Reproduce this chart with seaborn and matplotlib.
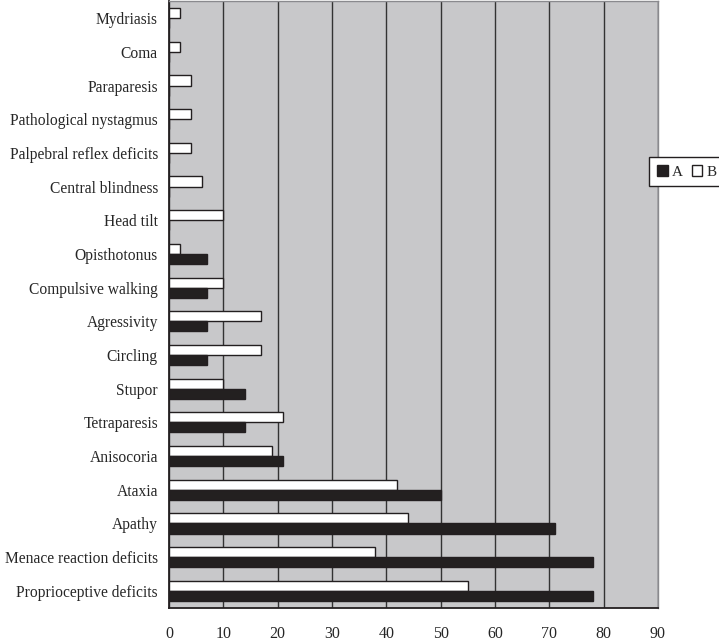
import numpy as np
import pandas as pd
import matplotlib
matplotlib.use("Agg")
import matplotlib.pyplot as plt
from matplotlib.patches import Patch
import seaborn as sns

# Signs, listed top to bottom as in the chart
signs = [
    "Mydriasis", "Coma", "Paraparesis", "Pathological nystagmus",
    "Palpebral reflex deficits", "Central blindness", "Head tilt",
    "Opisthotonus", "Compulsive walking", "Agressivity", "Circling",
    "Stupor", "Tetraparesis", "Anisocoria", "Ataxia", "Apathy",
    "Menace reaction deficits", "Proprioceptive deficits",
]
group_a = [0, 0, 0, 0, 0, 0, 0, 7, 7, 7, 7, 14, 14, 21, 50, 71, 78, 78]
group_b = [2, 2, 4, 4, 4, 6, 10, 2, 10, 17, 17, 10, 21, 19, 42, 44, 38, 55]

df = pd.DataFrame({
    "sign": signs * 2,
    "value": group_b + group_a,
    "group": ["B"] * len(signs) + ["A"] * len(signs),
})

sns.set_style("white")
plt.rcParams['font.family'] = ['Liberation Serif', 'DejaVu Serif']

fig = plt.figure(figsize=(7.19, 6.41), dpi=100)
ax = fig.add_axes([0.235, 0.052, 0.68, 0.946])
ax.set_facecolor("#c8c8ca")

sns.barplot(data=df, y="sign", x="value", hue="group", hue_order=["B", "A"],
            order=signs, palette={"A": "#231f20", "B": "white"},
            width=0.6, edgecolor="#231f20", linewidth=1.0, orient="h",
            ax=ax, legend=False, zorder=3)

ax.set_xlim(0, 90)
ax.set_xticks(np.arange(0, 91, 10))
ax.set_ylim(len(signs) - 0.5, -0.5)

# tick marks between categories, labels at centres
ax.set_yticks(np.arange(-0.5, len(signs), 1.0))
ax.set_yticklabels([])
ax.set_yticks(np.arange(len(signs)), minor=True)
ax.set_yticklabels(signs, minor=True, fontsize=11.2)
ax.tick_params(axis="y", which="minor", length=0, pad=8)
ax.tick_params(axis="y", which="major", length=5, width=1.2, direction="out", color="#231f20")
ax.tick_params(axis="x", length=5, width=1.2, direction="out", color="#231f20", labelsize=11.5, pad=8)

ax.xaxis.grid(True, color="#333333", linewidth=1.0, zorder=1)
ax.set_axisbelow(True)
ax.set_xlabel("")
ax.set_ylabel("")

for side in ["left", "bottom"]:
    ax.spines[side].set_color("#231f20")
    ax.spines[side].set_linewidth(1.3)
for side in ["top", "right"]:
    ax.spines[side].set_color("#8a8a8e")
    ax.spines[side].set_linewidth(1.0)

handles = [Patch(facecolor="#231f20", edgecolor="#231f20", label="A"),
           Patch(facecolor="white", edgecolor="#231f20", label="B")]
leg = fig.legend(handles=handles, ncol=2, loc="center left",
                 bbox_to_anchor=(0.903, 0.732), frameon=True, fancybox=False,
                 fontsize=11, handlelength=0.7, handleheight=0.7,
                 handletextpad=0.25, columnspacing=0.6, borderpad=0.5,
                 borderaxespad=0)
leg.get_frame().set_edgecolor("#231f20")
leg.get_frame().set_linewidth(1.0)
leg.get_frame().set_alpha(1)

fig.savefig("out.png", dpi=100)
